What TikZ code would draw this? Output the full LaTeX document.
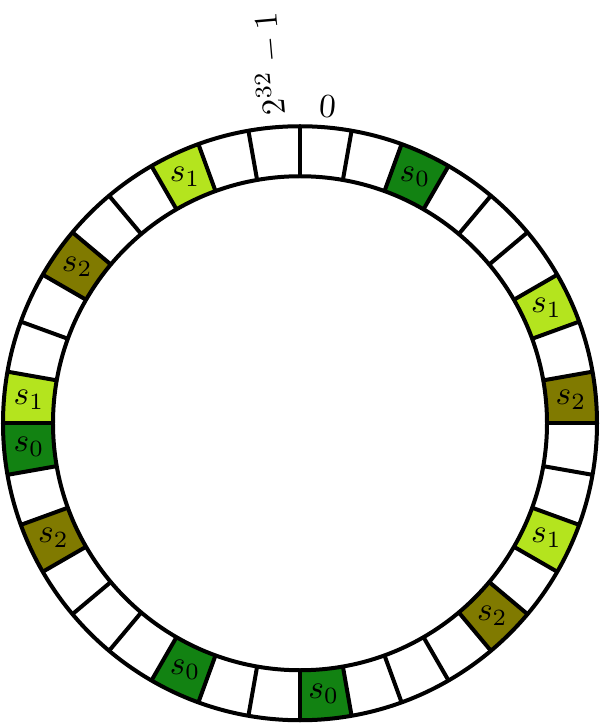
\documentclass[tikz,border=0pt]{standalone}
\definecolor{szero}{RGB}{18,130,18}
\definecolor{sone}{RGB}{180,228,30}
\definecolor{stwo}{RGB}{128,122,0}
\begin{document}
\begin{tikzpicture}[x=0.3pt,y=0.3pt,
  ring/.style={line width=1.2pt},
  seglabel/.style={inner sep=0pt}]
\useasboundingbox (-300,-301.75) rectangle (300,423.25);
\foreach \i/\c/\t in {2/szero/0, 6/sone/1, 8/stwo/2, 11/sone/1, 13/stwo/2, 17/szero/0, 20/szero/0, 24/stwo/2, 26/szero/0, 27/sone/1, 30/stwo/2, 33/sone/1} {
  \pgfmathsetmacro\a{90-10*\i}
  \pgfmathsetmacro\b{80-10*\i}
  \pgfmathsetmacro\m{85-10*\i}
  \fill[\c] (\a:247) arc[start angle=\a,end angle=\b,radius=247] -- (\b:297) arc[start angle=\b,end angle=\a,radius=297] -- cycle;
  \node[seglabel] (seg\i) at (\m:272) {$s_\t$};
}
\draw[ring] (0,0) circle[radius=297];
\draw[ring] (0,0) circle[radius=247];
\foreach \k in {0,...,35} {
  \pgfmathsetmacro\d{10*\k}
  \draw[ring] (\d:247) -- (\d:297);
}
\node[anchor=south,rotate=-5,inner sep=2pt] (zero) at (85:300) {$0$};
\node[anchor=west,rotate=95,inner sep=2pt] (max) at (95:302) {$2^{32}-1$};
\end{tikzpicture}
\end{document}
